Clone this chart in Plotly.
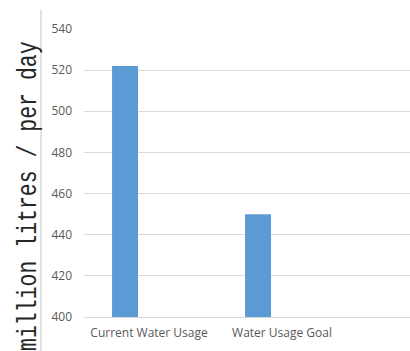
import plotly.graph_objects as go

# Data
categories = ["Current Water Usage", "Water Usage Goal"]
usage = [522, 450]
y_ticks = [400, 420, 440, 460, 480, 500, 520, 540]

W, H = 410, 351
L, R, T, B = 84, 0, 29, 34
plot_w = W - L - R
plot_h = H - T - B

bar_color = "#5B9BD5"
grid_color = "#D9D9D9"
text_color = "#595959"

fig = go.Figure()
fig.add_trace(go.Bar(
    x=[0, 1],
    y=usage,
    base=0,
    width=0.195,
    offset=-0.278,
    marker=dict(color=bar_color, line=dict(width=0)),
    hoverinfo="x+y",
))

fig.update_layout(
    width=W, height=H,
    margin=dict(l=L, r=R, t=T, b=B, pad=0),
    paper_bgcolor="white",
    plot_bgcolor="white",
    showlegend=False,
    font=dict(family="Open Sans", color=text_color),
    xaxis=dict(
        range=[-0.489, 1.962],
        tickmode="array",
        tickvals=[0, 1],
        ticktext=categories,
        tickfont=dict(size=12, color=text_color),
        showgrid=False,
        zeroline=False,
        showline=True,
        linecolor=grid_color,
        linewidth=1,
        ticks="",
        ticklabelstandoff=5,
        fixedrange=True,
    ),
    yaxis=dict(
        range=[400, 540],
        tickmode="array",
        tickvals=y_ticks,
        tickfont=dict(size=12, color=text_color),
        showgrid=True,
        gridcolor=grid_color,
        gridwidth=1,
        zeroline=False,
        showline=False,
        ticks="",
        ticklabelstandoff=11,
        fixedrange=True,
    ),
    annotations=[dict(
        text="million litres / per day",
        textangle=-90,
        xref="paper", yref="paper",
        x=(28 - L) / plot_w,
        y=(H - B - 196) / plot_h,
        xanchor="center", yanchor="middle",
        showarrow=False,
        font=dict(family="Liberation Mono", size=21.5, color="#262626"),
    )],
    shapes=[dict(
        type="line",
        xref="paper", yref="paper",
        x0=(41 - L) / plot_w, x1=(41 - L) / plot_w,
        y0=(H - B - 10) / plot_h, y1=(H - B - 351) / plot_h,
        line=dict(color=grid_color, width=1.5),
    )],
)

# Widen the rotated axis title's glyphs (scale across the text's height).
stretch_js = """
var gd = document.getElementById('{plot_id}');
function stretchTitle() {
  gd.querySelectorAll('.annotation-text').forEach(function (t) {
    t.style.transformBox = 'fill-box';
    t.style.transformOrigin = 'center';
    t.style.transform = 'scaleY(1.3)';
  });
}
stretchTitle();
if (gd.on) { gd.on('plotly_afterplot', stretchTitle); }
"""

fig.write_html("out.html", post_script=stretch_js)
